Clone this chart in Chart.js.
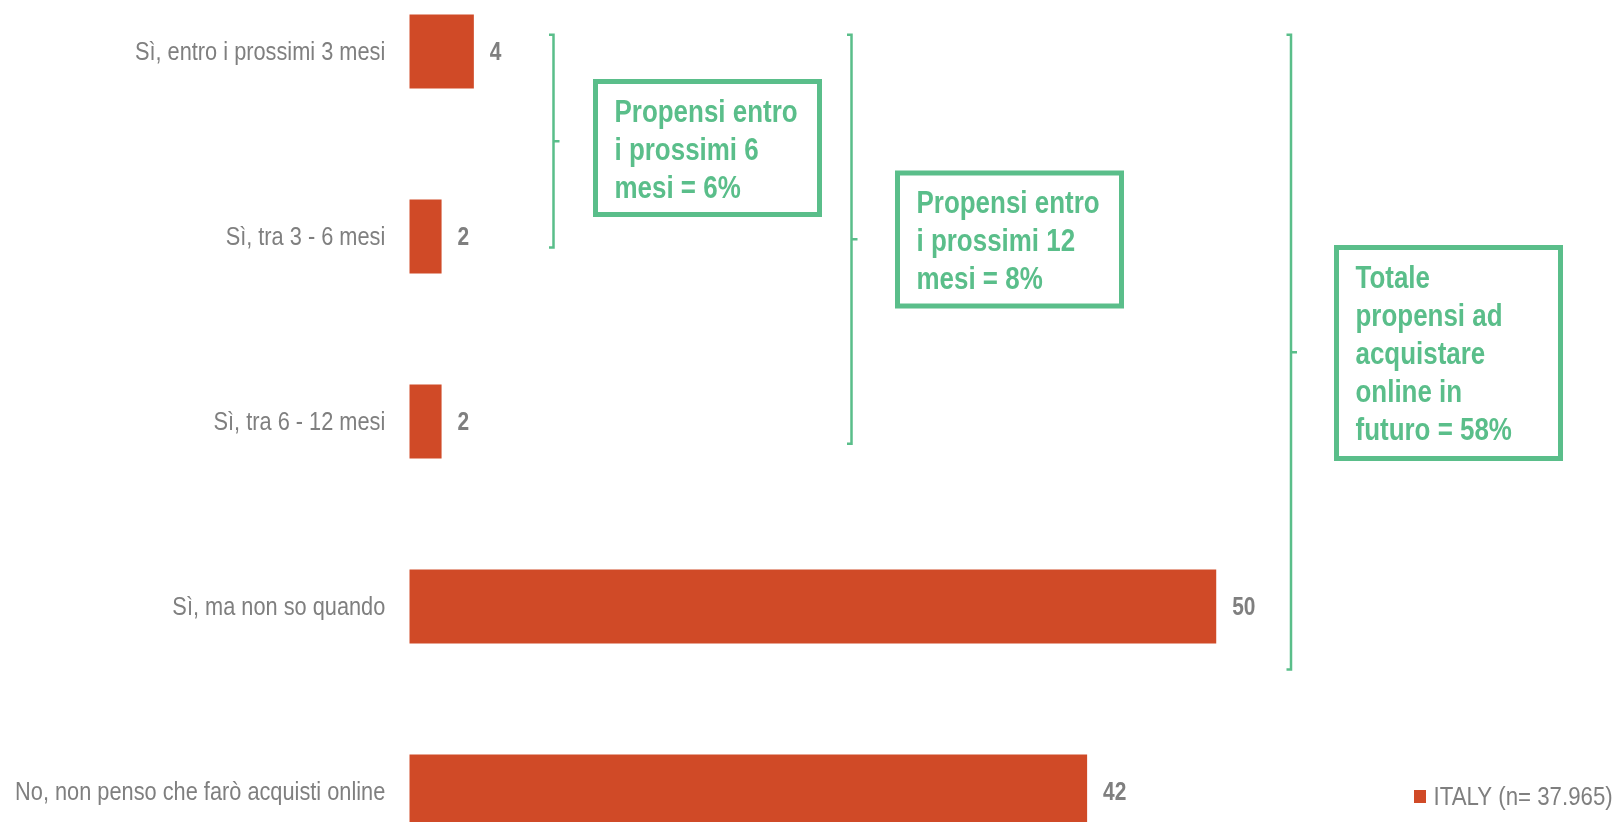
<!DOCTYPE html>
<html lang="it">
<head>
<meta charset="utf-8">
<title>Propensione all'acquisto online</title>
<script src="https://cdn.jsdelivr.net/npm/chart.js@4.4.1/dist/chart.umd.min.js"></script>
<style>
  html, body { margin: 0; padding: 0; background: #fff; overflow: hidden; }
  body { width: 1616px; height: 822px; position: relative; }
  .chart-wrap { position: absolute; left: 0; top: -41px; width: 1616px; height: 925px; }
</style>
</head>
<body>
<div class="chart-wrap"><canvas id="chart"></canvas></div>
<script>
(function () {
  'use strict';

  var CATEGORIES = [
    'Sì, entro i prossimi 3 mesi',
    'Sì, tra 3 - 6 mesi',
    'Sì, tra 6 - 12 mesi',
    'Sì, ma non so quando',
    'No, non penso che farò acquisti online'
  ];
  var VALUES = [4, 2, 2, 50, 42];
  var SERIES_LABEL = 'ITALY (n= 37.965)';

  // groups of "yes" answers summed in the green boxes (first..last category)
  var GROUP_FIRST = [0, 0, 0];
  var GROUP_LAST = [1, 2, 3];
  var GROUP_TEXT = [
    ['Propensi entro', 'i prossimi 6', 'mesi = {sum}%'],
    ['Propensi entro', 'i prossimi 12', 'mesi = {sum}%'],
    ['Totale', 'propensi ad', 'acquistare', 'online in', 'futuro = {sum}%']
  ];

  var RED = '#d04a27';
  var GREEN = '#5abe8a';
  var GREY = '#7f7f7f';
  var FONT = "'Liberation Sans', Arial, sans-serif";
  var NARROW_X = 0.837; // squeeze to a narrow face

  // bracket + box placement (page px; bracket ends in category units)
  var GROUP_LAYOUT = [
    { bx: 553.5, from: -0.09, to: 1.06, box: { x: 593, y: 79, w: 229, h: 138 } },
    { bx: 851.5, from: -0.09, to: 2.12, box: { x: 895, y: 170.5, w: 229, h: 138 } },
    { bx: 1291, from: -0.09, to: 3.34, box: { x: 1334, y: 245, w: 229, h: 216 } }
  ];
  var TOP_SHIFT = 41; // canvas sits 41px above the page top

  function groupSum(g) {
    var s = 0;
    for (var i = GROUP_FIRST[g]; i <= GROUP_LAST[g]; i++) s += VALUES[i];
    return s;
  }

  function narrowText(ctx, text, x, y, align) {
    ctx.save();
    ctx.translate(x, y);
    ctx.scale(NARROW_X, 1);
    ctx.textAlign = align;
    ctx.fillText(text, 0, 0);
    ctx.restore();
  }

  var annotations = {
    id: 'annotations',
    afterDatasetsDraw: function (chart) {
      var ctx = chart.ctx;
      var ys = chart.scales.y;
      var area = chart.chartArea;
      var meta = chart.getDatasetMeta(0);
      ctx.save();

      // category labels
      ctx.font = '26px ' + FONT;
      ctx.fillStyle = GREY;
      ctx.textBaseline = 'middle';
      CATEGORIES.forEach(function (c, i) {
        narrowText(ctx, c, area.left - 24, ys.getPixelForValue(i) + 1, 'right');
      });

      // value labels at the bar ends
      ctx.font = 'bold 25px ' + FONT;
      meta.data.forEach(function (bar, i) {
        narrowText(ctx, String(VALUES[i]), bar.x + 16, bar.y + 1.5, 'left');
      });

      // brackets and summary boxes
      GROUP_LAYOUT.forEach(function (g, k) {
        var top = ys.getPixelForValue(g.from);
        var bottom = ys.getPixelForValue(g.to);
        var mid = (top + bottom) / 2;
        ctx.strokeStyle = GREEN;
        ctx.lineWidth = 2.5;
        ctx.beginPath();
        ctx.moveTo(g.bx - 4.5, top);
        ctx.lineTo(g.bx, top);
        ctx.lineTo(g.bx, bottom);
        ctx.lineTo(g.bx - 4.5, bottom);
        ctx.moveTo(g.bx, mid);
        ctx.lineTo(g.bx + 6, mid);
        ctx.stroke();

        var b = g.box;
        ctx.lineWidth = 5;
        ctx.strokeRect(b.x + 2.5, b.y + TOP_SHIFT + 2.5, b.w - 5, b.h - 5);

        ctx.fillStyle = GREEN;
        ctx.font = 'bold 31px ' + FONT;
        ctx.textBaseline = 'alphabetic';
        var sum = groupSum(k);
        GROUP_TEXT[k].forEach(function (line, j) {
          narrowText(ctx, line.replace('{sum}', sum), b.x + 21.5, b.y + TOP_SHIFT + 42.5 + j * 38, 'left');
        });
      });

      // legend, bottom right
      ctx.fillStyle = RED;
      ctx.fillRect(1414, 790 + TOP_SHIFT, 12, 13);
      ctx.fillStyle = GREY;
      ctx.font = '26.6px ' + FONT;
      ctx.textBaseline = 'middle';
      narrowText(ctx, SERIES_LABEL, 1433.5, 797.5 + TOP_SHIFT, 'left');

      ctx.restore();
    }
  };

  new Chart(document.getElementById('chart'), {
    type: 'bar',
    data: {
      labels: CATEGORIES,
      datasets: [{
        label: SERIES_LABEL,
        data: VALUES,
        backgroundColor: RED,
        borderWidth: 0,
        categoryPercentage: 1,
        barPercentage: 0.4
      }]
    },
    options: {
      indexAxis: 'y',
      responsive: true,
      maintainAspectRatio: false,
      animation: false,
      layout: { padding: { left: 409.3, right: 77, top: 0, bottom: 0 } },
      plugins: { legend: { display: false }, tooltip: { enabled: false } },
      scales: {
        x: { display: false, min: 0, max: 70 },
        y: { display: false }
      }
    },
    plugins: [annotations]
  });
})();
</script>
</body>
</html>
